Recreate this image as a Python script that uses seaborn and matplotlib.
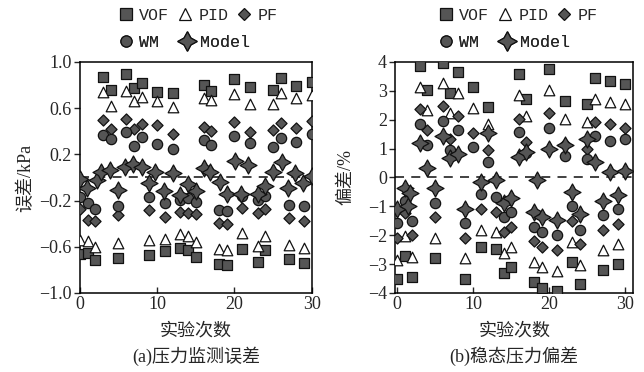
import matplotlib
matplotlib.use('Agg')
import matplotlib.pyplot as plt
from matplotlib.lines import Line2D
import seaborn as sns

# experiment index, shared by every series except Model
runs = list(range(31))

# (a) pressure monitoring error, kPa
vof_a = [-0.66, -0.656, -0.714, 0.873, 0.758, -0.70, 0.893, 0.772, 0.82, -0.67, 0.737,
         -0.64, 0.728, -0.61, -0.63, -0.69, 0.80, 0.75, -0.75, -0.76, 0.85, -0.62,
         0.78, -0.73, -0.63, 0.76, 0.86, -0.71, 0.79, -0.74, 0.83]
pid_a = [-0.54, -0.55, -0.60, 0.74, 0.62, -0.565, 0.75, 0.66, 0.70, -0.54, 0.66,
         -0.53, 0.61, -0.49, -0.51, -0.556, 0.685, 0.67, -0.62, -0.63, 0.72, -0.48,
         0.64, -0.59, -0.51, 0.64, 0.73, -0.585, 0.69, -0.61, 0.71]
pf_a = [-0.275, -0.37, -0.375, 0.50, 0.42, -0.325, 0.51, 0.42, 0.46, -0.28, 0.455,
        -0.345, 0.38, -0.30, -0.305, -0.32, 0.44, 0.40, -0.39, -0.40, 0.48, -0.26,
        0.39, -0.305, -0.275, 0.41, 0.475, -0.35, 0.43, -0.38, 0.49]
wm_a = [-0.165, -0.22, -0.275, 0.37, 0.33, -0.25, 0.39, 0.27, 0.35, -0.165, 0.29,
        -0.22, 0.25, -0.195, -0.18, -0.21, 0.325, 0.28, -0.28, -0.29, 0.36, -0.16,
        0.30, -0.195, -0.16, 0.26, 0.34, -0.24, 0.31, -0.25, 0.38]
model_a_x = [0, 0.95, 2.2, 2.8, 3.9, 5, 5.8, 6.9, 8, 9, 9.7, 10.9, 12.1, 12.9, 14, 15,
             16, 16.8, 18.1, 19, 20.1, 20.9, 21.8, 23.1, 24, 25, 26.1, 26.9, 27.9, 28.9, 30]
model_a = [-0.01, -0.09, -0.02, 0.05, 0.065, -0.11, 0.093, 0.115, 0.093, -0.05, 0.05,
           -0.115, 0.036, -0.15, -0.06, -0.12, 0.08, 0.05, -0.04, -0.14, 0.14, -0.14,
           0.11, -0.14, -0.075, 0.05, 0.137, -0.09, 0.036, -0.05, 0.01]

# (b) steady-state pressure deviation, %
vof_b = [-3.52, -2.73, -3.43, 3.86, 3.03, -2.80, 3.95, 2.94, 3.65, -3.52, 3.15,
         -2.40, 2.44, -2.48, -3.31, -3.11, 3.57, 2.73, -3.63, -3.81, 3.75, -3.92,
         2.64, -2.92, -3.69, 2.54, 3.44, -3.20, 3.34, -3.0, 3.25]
pid_b = [-2.85, -2.02, -2.75, 3.15, 2.34, -2.11, 3.26, 2.22, 2.94, -2.80, 2.42,
         -1.81, 1.84, -1.90, -2.62, -2.42, 2.85, 2.13, -2.92, -3.11, 3.03, -3.23,
         2.02, -2.23, -3.03, 1.93, 2.73, -2.51, 2.62, -2.31, 2.54]
pf_b = [-2.08, -1.23, -1.98, 2.36, 1.65, -1.38, 2.46, 1.33, 2.13, -2.11, 1.53,
        -1.10, 0.96, -1.19, -1.88, -1.70, 2.04, 1.23, -2.19, -2.42, 2.25, -2.51,
        1.15, -1.50, -2.31, 1.0, 1.93, -1.81, 1.84, -1.62, 1.73]
wm_b = [-1.56, -0.81, -1.50, 1.84, 1.12, -0.87, 1.94, 0.96, 1.65, -1.58, 1.04,
        -0.58, 0.52, -0.69, -1.38, -1.19, 1.56, 0.86, -1.70, -1.88, 1.73, -2.0,
        0.73, -0.98, -1.81, 0.63, 1.44, -1.30, 1.25, -1.10, 1.33]
model_b_x = [0, 1.05, 1.5, 1.7, 3, 4, 5, 6, 7, 8, 9, 11, 12, 13, 14, 15, 16, 17,
             18, 18.4, 19, 20, 21, 22, 23, 24, 25, 26, 27, 28, 29, 30]
model_b = [-1.1, -0.35, -1.0, -0.54, 1.21, 0.33, -0.38, 1.42, 0.66, 0.81, -1.1,
           -0.17, 1.53, -0.08, -0.87, -0.71, 0.71, 0.88, -1.19, -0.08, -1.38, 1.0,
           -1.48, 1.12, -0.5, -1.27, 1.33, 0.54, -0.8, 0.18, -0.6, 0.24]

yticks_a = [-1.0, -0.6, -0.2, 0.2, 0.6, 1.0]
yticks_b = [-4, -3, -2, -1, 0, 1, 2, 3, 4]
legend_rows = [['VOF', 'PID', 'PF'], ['WM', 'Model']]

gray = '#555555'
edge = '#111111'
star = (4, 1, 0)
# marker, scatter size, legend size, face colour
styles = {
    'VOF': ('s', 52, 8, gray),
    'PID': ('^', 58, 8.5, 'white'),
    'PF': ('D', 32, 6.5, gray),
    'WM': ('o', 55, 8, gray),
    'Model': (star, 150, 14, gray),
}

sns.set_style('ticks')
plt.rcParams['font.family'] = ['Liberation Serif', 'Noto Sans CJK SC']

fig = plt.figure(figsize=(6.44, 3.72), dpi=100)
ax_a = fig.add_axes([0.124, 0.2124, 0.360, 0.621])
ax_b = fig.add_axes([0.614, 0.2124, 0.369, 0.621])


def draw_panel(ax, series, xlim, ylim, yticks, ylabel, ylab_x, caption):
    ax.axhline(0, color='#333333', lw=1.3, dashes=(5, 4), zorder=1)
    for name, xs, vals in series:
        m, s, _, fc = styles[name]
        sns.scatterplot(x=xs, y=vals, marker=m, s=s, color=fc, edgecolor=edge,
                        linewidth=0.9, ax=ax, zorder=3, legend=False)
    ax.set_xlim(*xlim)
    ax.set_ylim(*ylim)
    ax.set_xticks([0, 10, 20, 30])
    ax.set_yticks(yticks)
    ax.tick_params(axis='x', direction='in', length=4, width=1, labelsize=13, pad=2)
    ax.tick_params(axis='y', direction='out', length=4, width=1, labelsize=13, pad=2)
    for sp in ax.spines.values():
        sp.set_visible(True)
        sp.set_linewidth(1.1)
        sp.set_color('black')
    ax.set_xlabel('')
    ax.set_ylabel('')
    ax.text(ylab_x, 0.5, ylabel, transform=ax.transAxes, rotation=90,
            ha='center', va='center', fontsize=13)
    ax.text(0.5, -0.165, '实验次数', transform=ax.transAxes, ha='center', va='center',
            fontsize=13)
    ax.text(0.5, -0.275, caption, transform=ax.transAxes, ha='center', va='center',
            fontsize=13)


def handle(name):
    m, _, ms, fc = styles[name]
    return Line2D([], [], ls='none', marker=m, markersize=ms, markerfacecolor=fc,
                  markeredgecolor=edge, markeredgewidth=0.9)


draw_panel(ax_a, [('VOF', runs, vof_a), ('PID', runs, pid_a), ('PF', runs, pf_a),
                  ('WM', runs, wm_a), ('Model', model_a_x, model_a)],
           (0, 30), (-1.0, 1.0), yticks_a, '误差/kPa', -0.235, '(a)压力监测误差')
ax_a.set_yticklabels([f'{v:.1f}'.replace('-', '\u2212') for v in yticks_a])

draw_panel(ax_b, [('VOF', runs, vof_b), ('PID', runs, pid_b), ('PF', runs, pf_b),
                  ('WM', runs, wm_b), ('Model', model_b_x, model_b)],
           (-0.2, 31.0), (-4, 4), yticks_b, '偏差/%', -0.21, '(b)稳态压力偏差')

# two legend rows per panel, both left aligned above the axes
for ax, lx in [(ax_a, 0.184), (ax_b, 0.681)]:
    for row, ly, cs in zip(legend_rows, [0.958, 0.885], [0.5, 1.2]):
        leg = ax.legend([handle(n) for n in row], row, ncol=len(row), loc='center left',
                        bbox_to_anchor=(lx, ly), bbox_transform=fig.transFigure,
                        frameon=False, handlelength=0.9, handletextpad=0.35,
                        columnspacing=cs, borderpad=0, borderaxespad=0,
                        prop={'family': 'Liberation Mono', 'size': 12})
        ax.add_artist(leg)

fig.savefig('out.png', dpi=100)
